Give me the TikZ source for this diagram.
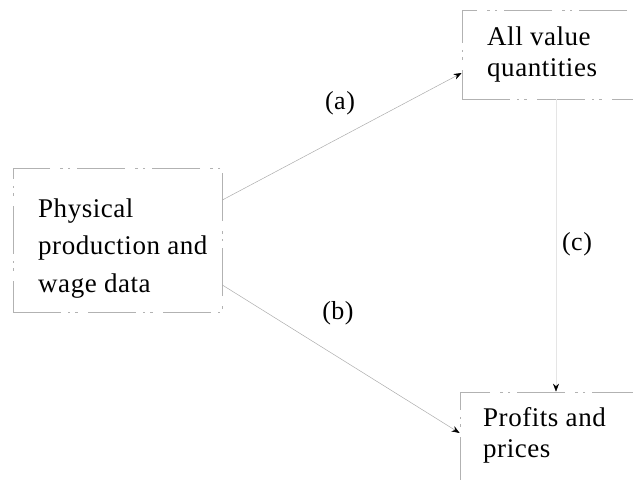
\documentclass[tikz,border=0pt]{standalone}
\usepackage{fontspec}
\setmainfont{Liberation Serif}[LetterSpace=2]
\usetikzlibrary{arrows.meta,calc}
\tikzset{
  boxframe/.style={draw=gray!60, line width=0.7pt,
    dash pattern=on 48pt off 7pt on 2pt off 5pt on 3pt off 10pt, inner sep=0pt},
  boxtext/.style={align=left, inner sep=0pt, anchor=base west},
  conn/.style={draw=gray!65, line width=0.5pt,
    -{Stealth[black,length=8pt,width=6pt]}},
  faintconn/.style={draw=gray!20, line width=0.5pt,
    -{Stealth[black,length=8pt,width=6pt]}},
  lbl/.style={font=\fontsize{26}{30}\selectfont, inner sep=0pt}
}
\begin{document}
\begin{tikzpicture}[x=1pt,y=-1pt]
\useasboundingbox (0,0) rectangle (633,480);
% boxes
\node[boxframe, minimum width=209pt, minimum height=144pt] (phys) at (117.5,240) {};
\node[boxframe, minimum width=188pt, minimum height=89pt] (vals) at (556,54.5) {};
\node[boxframe, minimum width=190pt, minimum height=100pt] (prof) at (555,442) {};
% texts (anchor = baseline of the last line)
\node[boxtext, font=\fontsize{27}{37.5}\selectfont] (physT) at (38,292)
  {Physical\\production and\\wage data};
\node[boxtext, font=\fontsize{27}{31}\selectfont] (valsT) at (487,76)
  {All value\\quantities};
\node[boxtext, font=\fontsize{27}{31}\selectfont] (profT) at (483,457)
  {Profits and\\prices};
% connectors
\draw[conn] ([yshift=40pt]phys.east) -- ([yshift=-18.5pt]vals.west);
\draw[conn] ([yshift=-45pt]phys.east) -- ([yshift=9pt]prof.west);
\coordinate (cx) at (556,0);
\draw[faintconn] (vals.south -| cx) -- (prof.north -| cx);
% labels
\node[lbl] (la) at (340,103) {(a)};
\node[lbl] (lb) at (338,313) {(b)};
\node[lbl] (lc) at (577,244) {(c)};
\end{tikzpicture}
\end{document}
